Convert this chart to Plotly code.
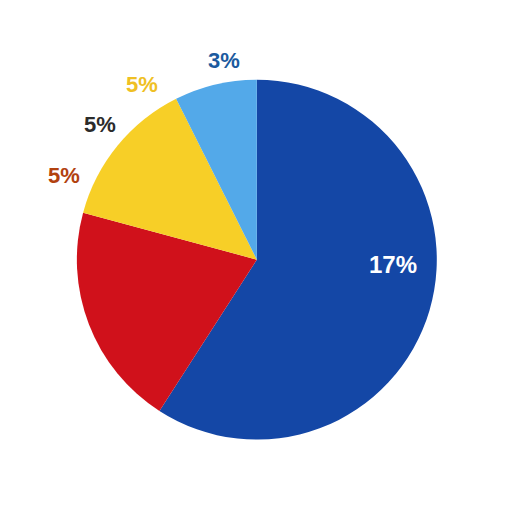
import plotly.graph_objects as go

# Slice shares
slices = ['Blue', 'Red', 'Yellow', 'Light blue']
shares = [59.1, 20.1, 13.4, 7.4]
slice_colors = ['#1447A6', '#D0111B', '#F7CF27', '#53A9E9']

# Text labels as printed on the chart
label_text = ['17%', '3%', '5%', '5%', '5%']
label_colors = ['#FFFFFF', '#1B5A9E', '#EFC024', '#2B2B2B', '#B2420F']
label_sizes = [24, 22, 22, 22, 22]
label_x = [0.752, 0.422, 0.262, 0.180, 0.109]
label_y = [0.500, 0.898, 0.850, 0.772, 0.672]

fig = go.Figure(go.Pie(
    labels=slices,
    values=shares,
    textinfo='none',
    marker=dict(colors=slice_colors, line=dict(width=0)),
    sort=False,
    direction='clockwise',
    rotation=0,
    domain=dict(x=[0.134, 0.838], y=[0.157, 0.860]),
    hoverinfo='label+percent',
))

# Labels are plain text annotations
for txt, col, size, x, y in zip(label_text, label_colors, label_sizes, label_x, label_y):
    fig.add_annotation(
        x=x, y=y, xref='paper', yref='paper', text=txt, showarrow=False,
        xanchor='center', yanchor='middle',
        font=dict(family='Liberation Sans', size=size, color=col, weight='bold'),
    )

fig.update_layout(
    width=512, height=512,
    margin=dict(l=0, r=0, t=0, b=0),
    showlegend=False,
    paper_bgcolor='white',
    plot_bgcolor='white',
)

fig.write_html('out.html')
